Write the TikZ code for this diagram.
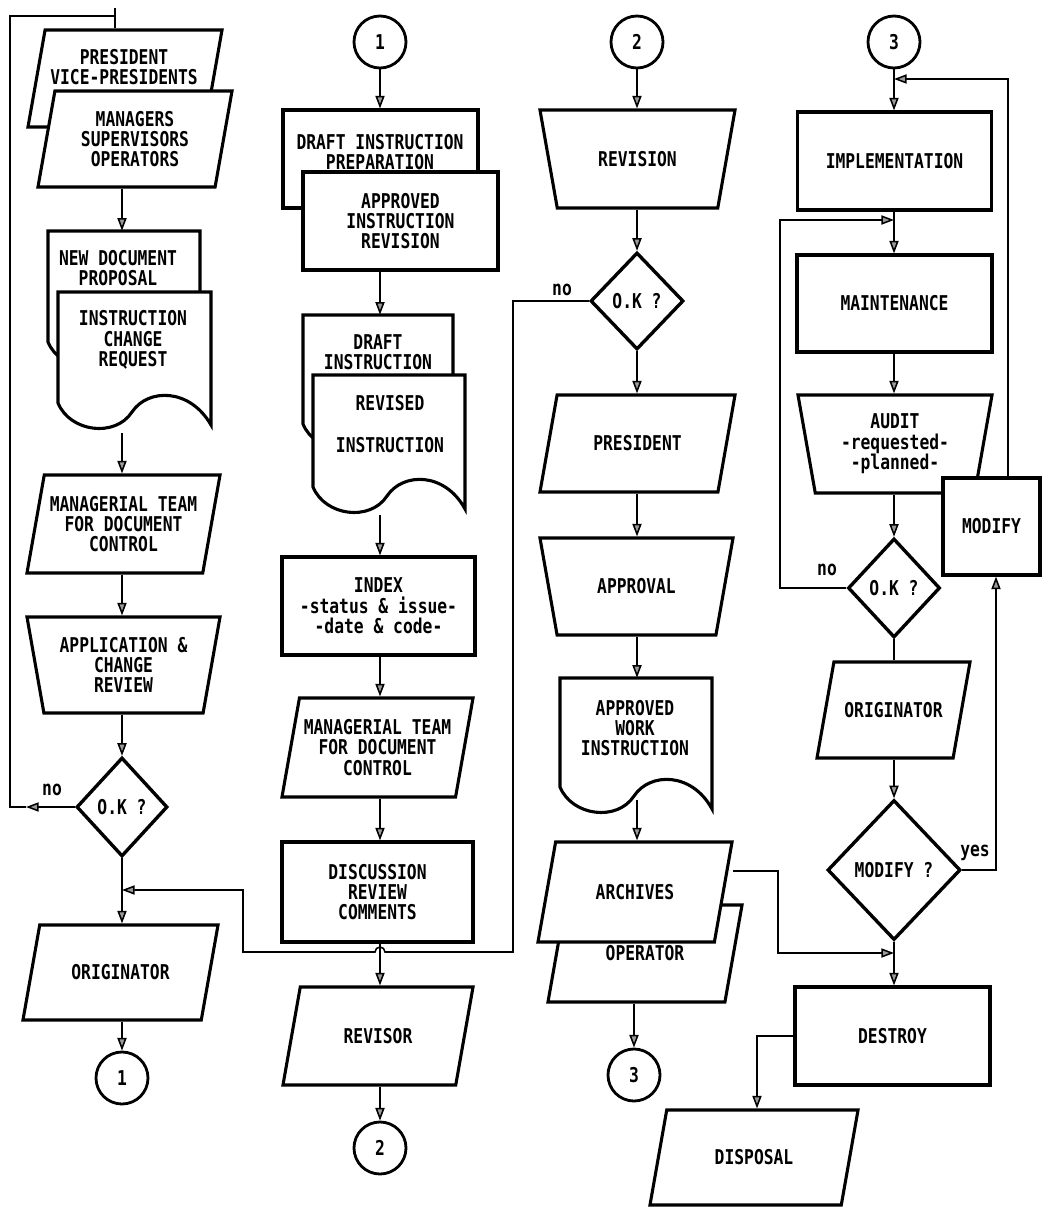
\documentclass[tikz,border=0pt]{standalone}
\usepackage{fontspec}
\usepackage{tikz}
\usetikzlibrary{shapes.geometric,arrows.meta}
\newfontfamily\flowfont[FakeStretch=0.8]{DejaVu Sans Mono}
\definecolor{tipgray}{HTML}{9a9a9a}

\begin{document}
\begin{tikzpicture}[x=0.025cm,y=-0.025cm,
  every node/.style={font=\fontsize{14.5pt}{14.5pt}\flowfont\bfseries,align=center,inner sep=1pt},
  box/.style={draw,rectangle,line width=2.2pt,fill=white},
  iobox/.style={draw,trapezium,trapezium left angle=80,trapezium right angle=100,
    trapezium stretches=true,trapezium stretches body=true,inner xsep=0pt,line width=2.2pt,fill=white},
  manual/.style={draw,trapezium,trapezium left angle=100,trapezium right angle=100,
    trapezium stretches=true,trapezium stretches body=true,inner xsep=0pt,line width=2.2pt,fill=white},
  decision/.style={draw,diamond,line width=2.4pt,fill=white},
  connector/.style={draw,circle,line width=2pt,minimum size=1.3cm},
  docline/.style={draw,line width=2.2pt,fill=white},
  arr/.style={line width=1.1pt,-{Triangle[length=9pt,width=6.5pt,fill=tipgray]}},
  link/.style={line width=1.1pt}]
  \useasboundingbox (0,0) rectangle (1042,1208);

  \coordinate (start) at (115,8);
  \node[iobox,minimum width=4.85cm,inner ysep=1.2125cm] (pres) at (125,78.5) {};
  \node (prestxt) at (124,67) {PRESIDENT\\VICE-PRESIDENTS};
  \node[iobox,minimum width=4.85cm,inner ysep=1.2cm,label=center:{MANAGERS\\SUPERVISORS\\OPERATORS}] (mgr) at (135,139) {};
  \draw[docline] (48,231) -- (200,231) -- (200,364) .. controls (180,327) and (138,327) .. (122,351)
    .. controls (105,377) and (60,371) .. (48,342) -- cycle;
  \node[minimum height=1.85cm] (newdoc) at (118,268) {NEW DOCUMENT\\PROPOSAL};
  \draw[docline] (58,292) -- (211,292) -- (211,425) .. controls (190,388) and (148,388) .. (132,412)
    .. controls (115,438) and (70,432) .. (58,403) -- cycle;
  \node[minimum height=2.4cm] (chreq) at (133,340) {INSTRUCTION\\CHANGE\\REQUEST};
  \coordinate (chreqout) at (122,433);
  \node[iobox,minimum width=4.825cm,inner ysep=1.225cm,label=center:{MANAGERIAL TEAM\\FOR DOCUMENT\\CONTROL}] (team1) at (123.5,524) {};
  \node[manual,minimum width=4.825cm,inner ysep=1.2cm,label=center:{APPLICATION \&\\CHANGE\\REVIEW}] (appl) at (123.5,665) {};
  \node[decision,minimum width=2.275cm,minimum height=2.475cm] (ok1) at (122,807) {O.K ?};
  \node[iobox,minimum width=4.875cm,inner ysep=1.1875cm,label=center:ORIGINATOR] (orig1) at (120.5,972.5) {};
  \node[connector] (c1a) at (122,1078) {1};
  \node (no1) at (52,790) {no};

  \node[connector] (c1b) at (380,42) {1};
  \node[box,minimum width=4.875cm,minimum height=2.45cm] (draft) at (380.5,159) {};
  \node (drafttxt) at (380,152) {DRAFT INSTRUCTION\\PREPARATION};
  \node[box,minimum width=4.875cm,minimum height=2.45cm] (apprev) at (400.5,221) {APPROVED\\INSTRUCTION\\REVISION};
  \draw[docline] (303,315) -- (453,315) -- (453,446) .. controls (435,409) and (393,409) .. (377,433)
    .. controls (360,459) and (315,453) .. (303,424) -- cycle;
  \node[minimum height=1.85cm] (draftins) at (378,352) {DRAFT\\INSTRUCTION};
  \draw[docline] (313,375) -- (465,375) -- (465,509) .. controls (445,472) and (403,472) .. (387,496)
    .. controls (370,522) and (325,516) .. (313,487) -- cycle;
  \node[minimum height=2.45cm] (revins) at (390,424) {REVISED\\[15pt]INSTRUCTION};
  \coordinate (revinsout) at (380,515);
  \node[box,minimum width=4.825cm,minimum height=2.45cm] (index) at (378.5,606) {INDEX\\-status \& issue-\\-date \& code-};
  \node[iobox,minimum width=4.775cm,inner ysep=1.2375cm,label=center:{MANAGERIAL TEAM\\FOR DOCUMENT\\CONTROL}] (team2) at (377.5,747.5) {};
  \node[box,minimum width=4.775cm,minimum height=2.5cm] (discuss) at (377.5,892) {DISCUSSION\\REVIEW\\COMMENTS};
  \node[iobox,minimum width=4.75cm,inner ysep=1.225cm,label=center:REVISOR] (revisor) at (378,1036) {};
  \node[connector] (c2a) at (380,1148) {2};

  \node[connector] (c2b) at (637,42) {2};
  \node[manual,minimum width=4.875cm,inner ysep=1.225cm,label=center:REVISION] (revision) at (637.5,159) {};
  \node[decision,minimum width=2.325cm,minimum height=2.425cm] (ok2) at (637,301) {O.K ?};
  \node (no2) at (562,290) {no};
  \node[iobox,minimum width=4.875cm,inner ysep=1.2125cm,label=center:PRESIDENT] (pres2) at (637.5,443.5) {};
  \node[manual,minimum width=4.825cm,inner ysep=1.2125cm,label=center:APPROVAL] (approval) at (636.5,586.5) {};
  \draw[docline] (560,678) -- (712,678) -- (712,809) .. controls (692,772) and (650,772) .. (634,796)
    .. controls (617,822) and (572,816) .. (560,787) -- cycle;
  \node[minimum height=2.5cm] (awi) at (635,728) {APPROVED\\WORK\\INSTRUCTION};
  \coordinate (awiout) at (637,800);
  \node[iobox,minimum width=4.85cm,inner ysep=1.2125cm,label=center:OPERATOR] (operator) at (645,953.5) {};
  \node[iobox,minimum width=4.85cm,inner ysep=1.25cm,label=center:ARCHIVES] (archives) at (635,892) {};
  \node[connector] (c3a) at (634,1075) {3};

  \node[connector] (c3b) at (894,42) {3};
  \node[box,minimum width=4.85cm,minimum height=2.45cm] (impl) at (894.5,161) {IMPLEMENTATION};
  \node[box,minimum width=4.875cm,minimum height=2.425cm] (maint) at (894.5,303.5) {MAINTENANCE};
  \node[manual,minimum width=4.85cm,inner ysep=1.225cm,label=center:{AUDIT\\-requested-\\-planned-}] (audit) at (895,444) {};
  \node[box,minimum width=2.425cm,minimum height=2.425cm] (modify) at (991.5,526.5) {MODIFY};
  \node[decision,minimum width=2.3cm,minimum height=2.475cm] (ok3) at (894,588) {O.K ?};
  \node (no3) at (827,570) {no};
  \node[iobox,minimum width=3.825cm,inner ysep=1.2cm,label=center:ORIGINATOR] (orig2) at (893.5,710) {};
  \node[decision,minimum width=3.325cm,minimum height=3.5cm] (modq) at (894,870) {MODIFY ?};
  \node (yes) at (975,853) {yes};
  \node[box,minimum width=4.875cm,minimum height=2.45cm] (destroy) at (892.5,1036) {DESTROY};
  \node[iobox,minimum width=5.2cm,inner ysep=1.1875cm,label=center:DISPOSAL] (disposal) at (754,1157.5) {};

  \coordinate (nomark1) at (26,807);
  \coordinate (loopTL) at (10,16);
  \draw[link] (start) -- (start |- pres.north);
  \draw[arr] (ok1.west) -- (nomark1);
  \draw[link] (nomark1) -| (loopTL) -- (loopTL -| start);
  \draw[arr] (mgr.south -| ok1) -- (newdoc.north -| ok1);
  \draw[arr] (chreqout) -- (team1.north -| ok1);
  \draw[arr] (team1.south -| ok1) -- (appl.north -| ok1);
  \draw[arr] (appl.south -| ok1) -- (ok1.north);
  \draw[arr] (ok1.south) -- (orig1.north -| ok1);
  \draw[arr] (orig1.south -| ok1) -- (c1a.north);

  \draw[arr] (c1b.south) -- (draft.north -| c1b);
  \draw[arr] (apprev.south -| c1b) -- (draftins.north -| c1b);
  \draw[arr] (revinsout) -- (index.north -| c1b);
  \draw[arr] (index.south -| c1b) -- (team2.north -| c1b);
  \draw[arr] (team2.south -| c1b) -- (discuss.north -| c1b);
  \draw[arr] (discuss.south -| c1b) -- (revisor.north -| c1b);
  \draw[arr] (revisor.south -| c1b) -- (c2a.north);

  \coordinate (j1) at (122,890);
  \coordinate (noturn2) at (513,952);
  \coordinate (bridgeR) at (385,952);
  \coordinate (lowturn) at (243,952);
  \draw[arr] (ok2.west) -| (noturn2) -- (bridgeR) arc[start angle=0,end angle=180,radius=0.125cm]
    -- (lowturn) |- (j1);
  \draw[arr] (c2b.south) -- (revision.north -| ok2);
  \draw[arr] (revision.south -| ok2) -- (ok2.north);
  \draw[arr] (ok2.south) -- (pres2.north -| ok2);
  \draw[arr] (pres2.south -| ok2) -- (approval.north -| ok2);
  \draw[arr] (approval.south -| ok2) -- (awi.north -| ok2);
  \draw[arr] (awiout) -- (archives.north -| ok2);
  \draw[arr] (operator.south -| c3a) -- (c3a.north);

  \coordinate (j3) at (894,79);
  \coordinate (upturn) at (1008,79);
  \coordinate (j4) at (894,220);
  \coordinate (noturn3) at (780,588);
  \coordinate (yesturn) at (996,870);
  \coordinate (j5) at (894,953);
  \coordinate (archout) at (733,871);
  \coordinate (archturn) at (778,953);
  \coordinate (destturn) at (757,1036);
  \draw[arr] (c3b.south) -- (impl.north -| ok3);
  \draw[arr] (modify.north -| upturn) -- (upturn) -- (j3);
  \draw[arr] (impl.south -| ok3) -- (maint.north -| ok3);
  \draw[arr] (ok3.west) -- (noturn3) |- (j4);
  \draw[arr] (maint.south -| ok3) -- (audit.north -| ok3);
  \draw[arr] (audit.south -| ok3) -- (ok3.north);
  \draw[link] (ok3.south) -- (orig2.north -| ok3);
  \draw[arr] (orig2.south -| ok3) -- (modq.north);
  \draw[arr] (modq.east) -- (yesturn) -- (modify.south -| yesturn);
  \draw[arr] (modq.south) -- (destroy.north -| modq);
  \draw[arr] (archout) -| (archturn) -- (j5);
  \draw[arr] (destroy.west) -- (destturn) -- (disposal.north -| destturn);
\end{tikzpicture}
\end{document}
